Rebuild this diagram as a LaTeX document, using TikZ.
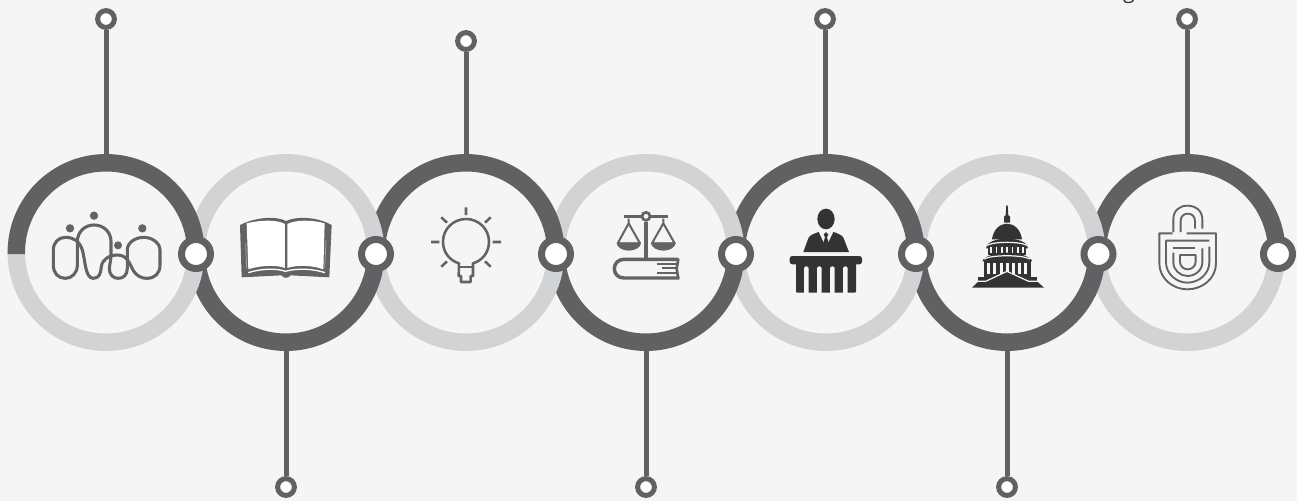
\documentclass[tikz,border=0pt]{standalone}
\usepackage{fontspec}
\setmainfont{Open Sans}
\definecolor{bgc}{HTML}{F5F5F5}
\definecolor{darkc}{HTML}{616163}
\definecolor{lightc}{HTML}{D2D3D5}
\definecolor{iconc}{HTML}{636365}
\definecolor{blackc}{HTML}{333334}
\tikzset{
  ringstroke/.style={line width=13.1pt},
  stemline/.style={draw=darkc,line width=3.75pt},
  pinnode/.style={circle,draw=darkc,fill=white,line width=3.75pt,minimum size=12.6pt,inner sep=0pt},
  hubnode/.style={circle,draw=darkc,fill=white,line width=5.25pt,minimum size=21.75pt,inner sep=0pt},
  iconline/.style={draw=iconc,line width=1.9pt,line join=round,fill=none},
  iconthin/.style={draw=iconc,line width=1.4pt,line join=round,fill=none},
  zoomA/.style={shift={(0,140)},scale=1/3},
  zoomB/.style={shift={(360,140)},scale=1/3},
  zoomC/.style={shift={(730,140)},scale=1/3},
  zoomD/.style={shift={(1080,0)},scale=1/3},
  zoomE/.style={shift={(40,200)},scale=1/3}
}
\begin{document}
\begin{tikzpicture}[x=0.75pt,y=-0.75pt]
\useasboundingbox (0,0) rectangle (1297,501);
\fill[bgc] (0,0) rectangle (1297,501);
\begin{scope}
\clip (0,0) rectangle (1297,501);
\node[anchor=base,inner sep=0pt,text=blackc,font=\fontsize{16pt}{18pt}\selectfont] (frag) at (1129,-1.5) {g};
\end{scope}
% stems lie under the rings
\node[pinnode] (p1) at (106,19) {};
\node[pinnode] (p2) at (286,487) {};
\node[pinnode] (p3) at (466,41) {};
\node[pinnode] (p4) at (646,487) {};
\node[pinnode] (p5) at (825,19) {};
\node[pinnode] (p6) at (1007,487) {};
\node[pinnode] (p7) at (1187,19) {};
\coordinate (r1) at (106,160);
\coordinate (r2) at (286,345);
\coordinate (r3) at (466,160);
\coordinate (r4) at (646,345);
\coordinate (r5) at (825,160);
\coordinate (r6) at (1007,345);
\coordinate (r7) at (1187,160);
\foreach \i in {1,...,7} \draw[stemline] (p\i) -- (r\i);
% rings, right to left: each ring lies over its right neighbour
\foreach \cx/\kind in {1187/0,1007/1,826/0,646/1,466/0,286/1,106/0} {
  \ifnum\kind=0
    \draw[ringstroke,lightc] (\cx-89.7,252.5) arc[start angle=180,end angle=360,radius=67.3pt];
    \draw[ringstroke,darkc] (\cx-89.7,254) -- (\cx-89.7,252.5) arc[start angle=180,end angle=0,radius=67.3pt];
  \else
    \draw[ringstroke,darkc] (\cx-89.7,252.5) arc[start angle=180,end angle=360,radius=67.3pt];
    \draw[ringstroke,lightc] (\cx-89.7,252.5) arc[start angle=180,end angle=0,radius=67.3pt];
  \fi
}
% hubs
\node[hubnode] (h1) at (196,254) {};
\node[hubnode] (h2) at (376,254) {};
\node[hubnode] (h3) at (556,254) {};
\node[hubnode] (h4) at (736,254) {};
\node[hubnode] (h5) at (916,254) {};
\node[hubnode] (h6) at (1098.5,254) {};
\node[hubnode] (h7) at (1278,254) {};
% family
\begin{scope}[zoomE]
\draw[draw=iconc,line width=2.3pt,line join=round]
 (40,150) .. controls (40,128) and (55,112) .. (76,112) .. controls (100,112) and (118,122) .. (127,150)
 .. controls (136,180) and (135,235) .. (160,235) .. controls (178,235) and (182,220) .. (184,200)
 .. controls (187,178) and (208,165) .. (232,165) .. controls (262,165) and (268,190) .. (280,212)
 .. controls (290,228) and (305,235) .. (320,235) .. controls (345,235) and (360,220) .. (360,195)
 -- (360,150) .. controls (360,128) and (335,112) .. (312,112) .. controls (285,112) and (262,128) .. (262,150)
 -- (262,205) .. controls (262,225) and (250,235) .. (235,235) .. controls (220,235) and (208,225) .. (208,205)
 -- (213,170) -- (213,125) .. controls (213,95) and (190,75) .. (162,75) .. controls (135,75) and (112,95) .. (112,125)
 -- (112,195) .. controls (112,220) and (95,235) .. (76,235) .. controls (55,235) and (40,220) .. (40,195) -- cycle;
\fill[iconc] (90,85) circle[radius=12.5] (162,47) circle[radius=12.5] (234,136) circle[radius=12] (307,85) circle[radius=12.5];
\end{scope}
% book
\begin{scope}[zoomA]
\fill[iconc] (720,255) .. controls (770,230) and (830,228) .. (858,243) .. controls (890,228) and (950,230) .. (995,255)
 -- (988,412) -- (872,406) .. controls (866,416) and (850,416) .. (844,406) -- (725,412) -- cycle;
\fill[white] (740,250) .. controls (780,240) and (830,238) .. (855,252) -- (855,384) .. controls (830,374) and (780,376) .. (745,388) -- cycle;
\fill[white] (862,252) .. controls (890,238) and (940,240) .. (974,250) -- (970,388) .. controls (940,376) and (890,374) .. (862,384) -- cycle;
\draw[white,line width=1pt] (745,398) .. controls (780,386) and (830,384) .. (856,394) .. controls (890,384) and (940,386) .. (975,398);
\draw[iconc!60,line width=0.6pt] (737,310) -- (740,385) (978,300) -- (974,385);
\end{scope}
% bulb
\begin{scope}[zoomB]
\draw[iconline] (297,370) .. controls (270,362) and (249,338) .. (249,305) .. controls (249,267) and (280,237) .. (318,237)
 .. controls (356,237) and (387,267) .. (387,305) .. controls (387,338) and (366,362) .. (339,370)
 -- (339,408) -- (332,408) -- (332,426) -- (303,426) -- (303,408) -- (296,408) -- cycle;
\draw[iconline] (296,381) -- (339,381);
\draw[iconline] (318,202) -- (318,225) (213,306) -- (238,306) (398,306) -- (423,306)
 (244,232) -- (261,248) (392,232) -- (375,248) (244,380) -- (261,364) (392,380) -- (375,364);
% scales
\draw[draw=iconc,line width=2.4pt] (793,230) -- (925,230);
\draw[draw=iconc,line width=2.6pt] (858,245) -- (858,355);
\draw[draw=iconc,line width=2pt,fill=bgc] (858,229) circle[radius=12];
\draw[draw=iconc,line width=1.5pt,line join=round] (806,236) -- (806,250) (806,250) -- (773,310) -- (840,310) -- cycle (910,236) -- (910,250) (910,250) -- (876,310) -- (944,310) -- cycle;
\fill[iconc] (770,308) -- (843,308) .. controls (843,322) and (825,332) .. (806,332) .. controls (788,332) and (770,322) .. (770,308) -- cycle;
\fill[iconc] (873,308) -- (947,308) .. controls (947,322) and (928,332) .. (910,332) .. controls (892,332) and (873,322) .. (873,308) -- cycle;
\draw[draw=iconc,line width=2.6pt,line join=round] (955,358) -- (792,358) .. controls (775,358) and (763,370) .. (763,386) .. controls (763,402) and (775,414) .. (792,414) -- (958,414);
\draw[draw=iconc,line width=2pt] (955,356) -- (950,386) -- (955,416);
\draw[draw=iconc,line width=1.5pt] (890,372) -- (948,372) (905,385) -- (948,385) (890,399) -- (948,399);
\end{scope}
% judge
\begin{scope}[zoomC]
\fill[blackc] (288,237) ellipse[x radius=26,y radius=31];
\fill[blackc] (220,336) -- (235,295) .. controls (238,285) and (255,280) .. (266,276) -- (283,312) -- (288,322) -- (293,312) -- (310,276)
 .. controls (322,280) and (338,285) .. (341,295) -- (357,336) -- cycle;
\fill[blackc] (288,276) -- (295,283) -- (291,292) -- (297,312) -- (288,322) -- (279,312) -- (285,292) -- (281,283) -- cycle;
\fill[blackc,rounded corners=2pt] (179,348) rectangle (396,373);
\fill[blackc,rounded corners=0.8pt] (198,365) rectangle (378,458);
\foreach \gx in {222,261,300,339} \fill[bgc,rounded corners=1.6pt] (\gx,379) -- (\gx+14,379) -- (\gx+14,470) -- (\gx,470) -- cycle;
\fill[bgc] (198,459) rectangle (378,470);
\end{scope}
% capitol
\begin{scope}[zoomC]
\fill[blackc] (829,196) -- (833,196) -- (835,226) -- (840,230) -- (840,248) -- (822,248) -- (822,230) -- (827,226) -- cycle;
\fill[blackc] (786,298) .. controls (790,268) and (810,251) .. (831,251) .. controls (852,251) and (872,268) .. (876,298) -- cycle;
\fill[blackc] (768,325) .. controls (768,308) and (795,296) .. (831,296) .. controls (867,296) and (894,308) .. (894,325) -- cycle;
\draw[bgc,line width=0.9pt] (772,316) .. controls (790,304) and (872,304) .. (890,316);
\fill[blackc] (773,320) rectangle (889,345);
\foreach \gx in {780,797,813,829,845,861,877} \fill[bgc] (\gx,322) rectangle (\gx+5,338);
\fill[blackc] (757,364) .. controls (760,350) and (795,338) .. (831,338) .. controls (867,338) and (902,350) .. (907,364) -- cycle;
\draw[bgc,line width=0.9pt] (762,357) .. controls (785,344) and (877,344) .. (900,357);
\fill[blackc] (762,362) rectangle (902,412);
\foreach \gx in {771,790,809,827,846,865,883} \fill[bgc] (\gx,368) rectangle (\gx+9,402);
\fill[blackc] (745,412) rectangle (922,425);
\fill[blackc] (745,425) -- (726,443) -- (942,443) -- (922,425) -- cycle;
\fill[blackc] (831,396) -- (895,423) -- (767,423) -- cycle;
\draw[bgc,line width=0.9pt] (741,424) -- (767,424) -- (831,394) -- (896,424) -- (926,424);
\end{scope}
% lock
\begin{scope}[zoomD]
\draw[iconthin] (280,696) -- (280,658) .. controls (280,632) and (298,617) .. (322,617) .. controls (347,617) and (367,632) .. (367,658) -- (367,686);
\draw[iconthin] (302,696) -- (302,664) .. controls (302,650) and (310,641) .. (323,641) .. controls (337,641) and (345,650) .. (345,664) -- (345,686);
\draw[iconthin] (278,700) -- (238,700) -- (238,790) .. controls (238,835) and (278,868) .. (322,868) .. controls (368,868) and (408,835) .. (408,790) -- (408,700) -- (320,700);
\draw[iconthin] (388,722) -- (258,722) -- (258,787) .. controls (258,822) and (290,848) .. (322,848) .. controls (356,848) and (388,822) .. (388,787) -- (388,740);
\draw[iconthin] (278,743) -- (346,743);
\draw[iconthin] (280,758) -- (280,787) .. controls (280,810) and (300,828) .. (322,828) .. controls (346,828) and (367,810) .. (367,787) -- (367,745);
\draw[iconthin] (300,765) -- (347,765) -- (347,785) .. controls (347,798) and (336,808) .. (323,808) .. controls (310,808) and (300,798) .. (300,785) -- cycle;
\end{scope}
\end{tikzpicture}
\end{document}
